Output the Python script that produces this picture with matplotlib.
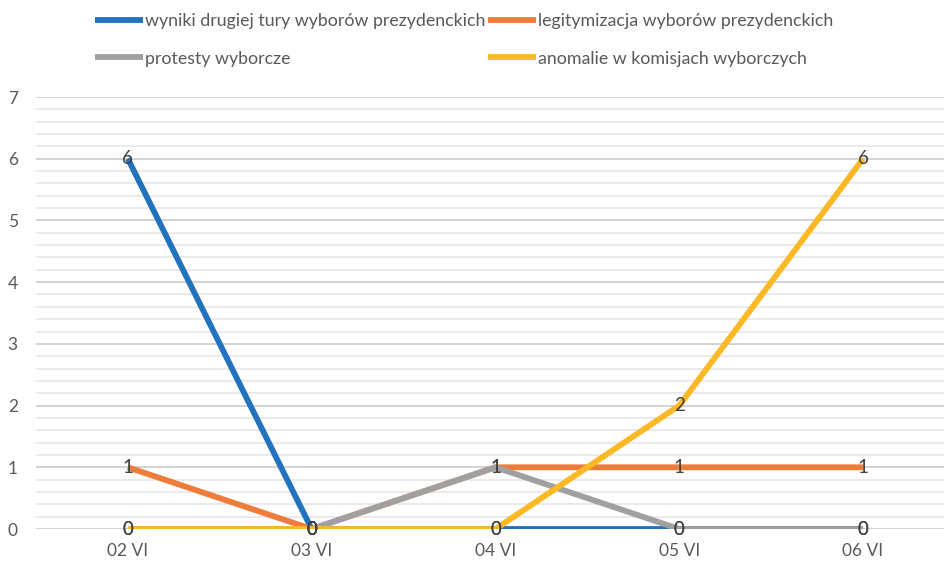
import matplotlib.pyplot as plt
from matplotlib.ticker import MultipleLocator

days = ['02 VI', '03 VI', '04 VI', '05 VI', '06 VI']
wyniki = [6, 0, 0, 0, 0]
legitymizacja = [1, 0, 1, 1, 1]
protesty = [0, 0, 1, 0, 0]
anomalie = [0, 0, 0, 2, 6]

series = [
    ('wyniki drugiej tury wyborów prezydenckich', wyniki, '#2272BD'),
    ('legitymizacja wyborów prezydenckich', legitymizacja, '#EE7D3B'),
    ('protesty wyborcze', protesty, '#A0A0A0'),
    ('anomalie w komisjach wyborczych', anomalie, '#FDB826'),
]

plt.rcParams['font.family'] = ['Lato', 'DejaVu Sans']

fig = plt.figure(figsize=(9.44, 5.62), dpi=100)
ax = fig.add_axes([0.0381, 0.0587, 0.9735, 0.7687])

x = list(range(len(days)))
lines = {}
for name, vals, col in series:
    ln, = ax.plot(x, vals, color=col, lw=4.2, solid_capstyle='butt', label=name)
    lines[name] = ln
    for xi, v in zip(x, vals):
        ax.text(xi, v, str(v), ha='center', va='center', fontsize=13.5, color='#404040', zorder=5)

ax.set_xlim(-0.5, 4.5)
ax.set_ylim(0, 7)
ax.set_xticks(x)
ax.set_xticklabels(days)
ax.yaxis.set_major_locator(MultipleLocator(1))
ax.yaxis.set_minor_locator(MultipleLocator(0.2))
ax.grid(axis='y', which='major', color='#D0D0D0', lw=1.3)
ax.grid(axis='y', which='minor', color='#E8E8E8', lw=1.3)
ax.set_axisbelow(True)
for s in ax.spines.values():
    s.set_visible(False)
ax.tick_params(axis='both', which='both', length=0, colors='#595959', labelsize=12.5)
ax.tick_params(axis='y', pad=13)
ax.tick_params(axis='x', pad=10)

names = [s[0] for s in series]
order = [names[0], names[2], names[1], names[3]]
fig.legend([lines[n] for n in order], order, ncol=2, loc='upper left',
           bbox_to_anchor=(0.084, 1.005), frameon=False, fontsize=12.8,
           handlelength=2.7, handletextpad=0.1, columnspacing=0.15,
           labelspacing=1.2, labelcolor='#595959')

fig.savefig('out.png', dpi=100)
